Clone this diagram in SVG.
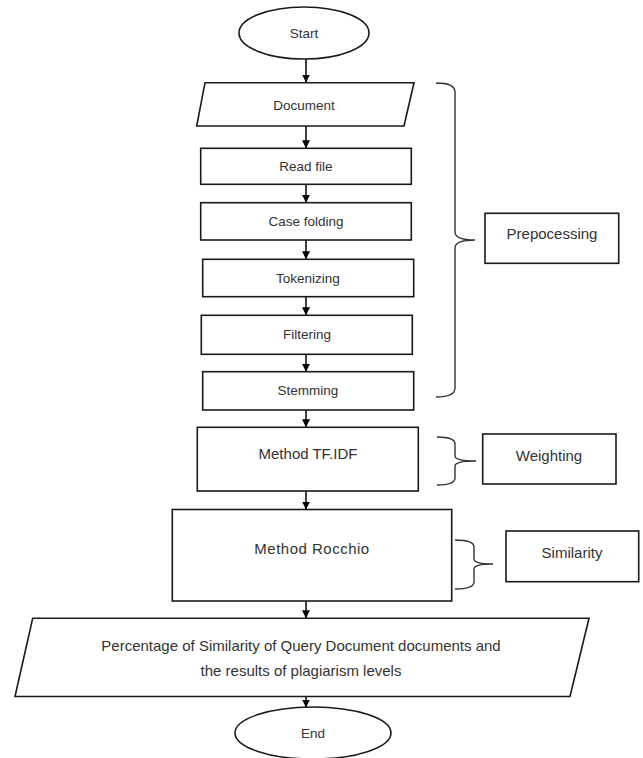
<svg xmlns="http://www.w3.org/2000/svg" width="643" height="758" viewBox="0 0 643 758">
<defs>
<marker id="ah" viewBox="0 0 10 10" refX="10" refY="5" markerWidth="8" markerHeight="8" markerUnits="userSpaceOnUse" orient="auto">
<path d="M0,0 L10,5 L0,10 Z" fill="#000"/>
</marker>
<style>
.shape{fill:#fff;stroke:#1a1a1a;stroke-width:1.6}
.t{font-family:"Liberation Sans",Arial,sans-serif;fill:#333;text-anchor:middle;dominant-baseline:central}
.s{font-size:13.5px}
.l{font-size:15px}
.conn{stroke:#000;stroke-width:1.5;fill:none}
.brace{stroke:#333;stroke-width:1.4;fill:none}
</style>
</defs>
<rect width="643" height="758" fill="#fff"/>

<g id="connectors">
<line class="conn" x1="306" y1="59" x2="306" y2="82.5" marker-end="url(#ah)"/>
<line class="conn" x1="306" y1="126" x2="306" y2="148.3" marker-end="url(#ah)"/>
<line class="conn" x1="306" y1="184.3" x2="306" y2="202.7" marker-end="url(#ah)"/>
<line class="conn" x1="306" y1="240" x2="306" y2="259.3" marker-end="url(#ah)"/>
<line class="conn" x1="306" y1="296.7" x2="306" y2="315.3" marker-end="url(#ah)"/>
<line class="conn" x1="306" y1="354.3" x2="306" y2="371.7" marker-end="url(#ah)"/>
<line class="conn" x1="306" y1="410" x2="306" y2="427.3" marker-end="url(#ah)"/>
<line class="conn" x1="306" y1="491" x2="306" y2="509.5" marker-end="url(#ah)"/>
<line class="conn" x1="306" y1="601" x2="306" y2="618.3" marker-end="url(#ah)"/>
<line class="conn" x1="306" y1="692" x2="306" y2="707.5" marker-end="url(#ah)"/>
</g>

<g id="braces">
<path class="brace" d="M436,83 Q455,83 455,92 L455,232 Q455,240 475,240 Q455,240 455,248 L455,388 Q455,397 436,397"/>
<path class="brace" d="M437,437 Q455,437 455,444 L455,456 Q455,461 476,461 Q455,461 455,466 L455,478 Q455,485 437,485"/>
<path class="brace" d="M455,540 Q474,540 474,547 L474,559 Q474,564 493,564 Q474,564 474,569 L474,582 Q474,589 455,589"/>
</g>

<g id="start">
<ellipse class="shape" cx="304" cy="33" rx="65" ry="26"/>
<text class="t s" x="304" y="33">Start</text>
</g>

<g id="document">
<polygon class="shape" points="205,82.7 414,82.7 404,126 196.7,126"/>
<text class="t s" x="304" y="105">Document</text>
</g>

<g id="readfile">
<rect class="shape" x="200.7" y="148.3" width="210.6" height="36"/>
<text class="t s" x="306" y="166.5">Read file</text>
</g>

<g id="casefolding">
<rect class="shape" x="200.7" y="202.7" width="210.6" height="37.3"/>
<text class="t s" x="306" y="221.5">Case folding</text>
</g>

<g id="tokenizing">
<rect class="shape" x="202.7" y="259.3" width="211" height="37.4"/>
<text class="t s" x="308" y="278">Tokenizing</text>
</g>

<g id="filtering">
<rect class="shape" x="201.3" y="315.3" width="211" height="39"/>
<text class="t s" x="307" y="334.5">Filtering</text>
</g>

<g id="stemming">
<rect class="shape" x="202.7" y="371.7" width="211" height="38.3"/>
<text class="t s" x="308" y="390.5">Stemming</text>
</g>

<g id="tfidf">
<rect class="shape" x="197.3" y="427.3" width="221" height="63.7"/>
<text class="t l" x="308" y="453">Method TF.IDF</text>
</g>

<g id="rocchio">
<rect class="shape" x="172.3" y="509.5" width="279.4" height="91.5"/>
<text class="t l" x="312" y="548" letter-spacing="0.5">Method Rocchio</text>
</g>

<g id="output">
<polygon class="shape" points="32.7,618.3 589,618.3 570,696.5 15,696.5"/>
<text class="t l" x="301" y="645">Percentage of Similarity of Query Document documents and</text>
<text class="t l" x="301" y="670">the results of plagiarism levels</text>
</g>

<g id="end">
<ellipse class="shape" cx="313" cy="733" rx="78" ry="26"/>
<text class="t s" x="313" y="733">End</text>
</g>

<g id="prepocessing">
<rect class="shape" x="485" y="213.3" width="133.7" height="50"/>
<text class="t l" x="552" y="233">Prepocessing</text>
</g>

<g id="weighting">
<rect class="shape" x="482.7" y="434" width="133.3" height="50"/>
<text class="t l" x="549" y="455">Weighting</text>
</g>

<g id="similarity">
<rect class="shape" x="506" y="531" width="132.7" height="50.7"/>
<text class="t l" x="572" y="552">Similarity</text>
</g>
</svg>
